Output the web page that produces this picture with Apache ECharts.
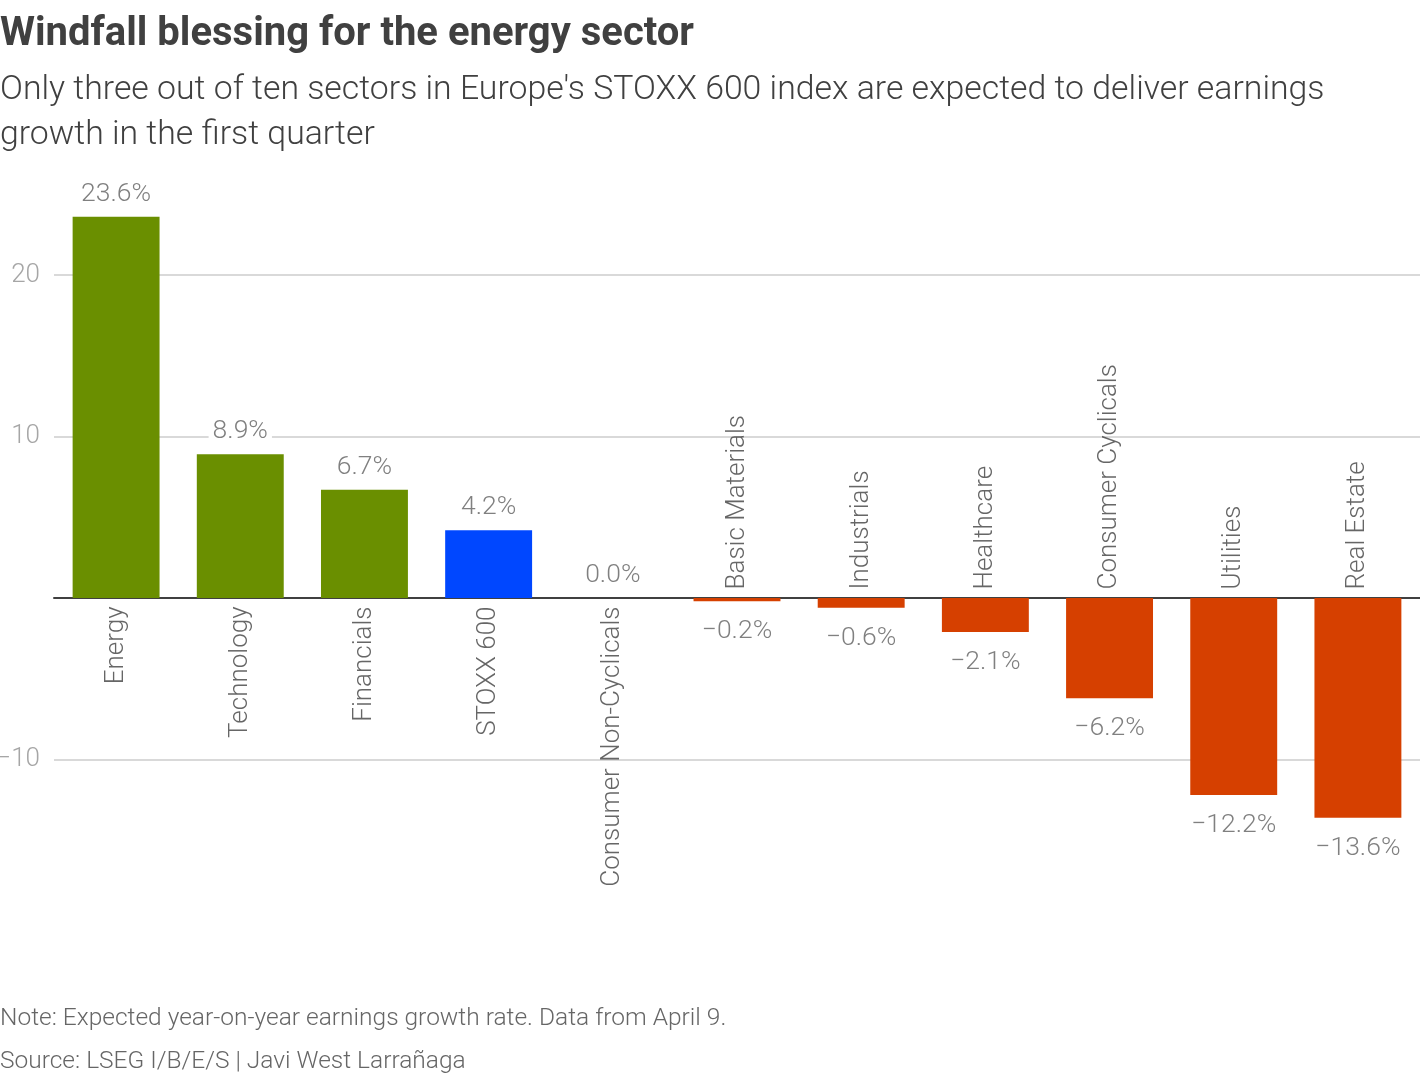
<!DOCTYPE html>
<html>
<head>
<meta charset="utf-8">
<script src="https://cdn.jsdelivr.net/npm/echarts@6/dist/echarts.min.js"></script>
<style>
  html, body { margin: 0; padding: 0; background: #fff; }
  #chart { width: 1420px; height: 1074px; }
</style>
</head>
<body>
<div id="chart"></div>
<script>
const sectors = [
  'Energy', 'Technology', 'Financials', 'STOXX 600', 'Consumer Non-Cyclicals',
  'Basic Materials', 'Industrials', 'Healthcare', 'Consumer Cyclicals', 'Utilities', 'Real Estate'
];
const growth = [23.6, 8.9, 6.7, 4.2, 0.0, -0.2, -0.6, -2.1, -6.2, -12.2, -13.6];
const yTicks = [-10, 10, 20];
const indexName = 'STOXX 600';

const FONT = 'Roboto';
const COLORS = {
  up: '#6a8f00',
  index: '#0047ff',
  down: '#d64000'
};

function fmtPct(v) {
  const s = Math.abs(v).toFixed(1) + '%';
  return v < 0 ? '\u2212' + s : s;
}

const chart = echarts.init(document.getElementById('chart'), null, { renderer: 'canvas' });

// value labels sit above bars >= 0 and below negative bars
const barData = growth.map((v, i) => ({
  value: v,
  itemStyle: {
    color: sectors[i] === indexName ? COLORS.index : (v < 0 ? COLORS.down : COLORS.up)
  },
  label: {
    position: v < 0 ? 'outside' : 'top',
    distance: v < 0 ? 17 : 9
  }
}));

// sector names flip to the opposite side of the zero line
const nameData = sectors.map((name, i) => {
  const below = growth[i] >= 0;
  return {
    value: [i, 0],
    name,
    label: {
      position: below ? 'bottom' : 'top',
      distance: 8,
      align: below ? 'right' : 'left',
      verticalAlign: 'middle'
    }
  };
});

const option = {
  animation: false,
  backgroundColor: '#fff',
  title: [
    {
      text: 'Windfall blessing for the energy sector',
      left: 0, top: 15, padding: 0,
      textStyle: { fontFamily: FONT, fontWeight: 'bold', fontSize: 40, color: '#404040' }
    },
    {
      text: "Only three out of ten sectors in Europe's STOXX 600 index are expected to deliver earnings\ngrowth in the first quarter",
      left: 0, top: 68, padding: 0,
      textStyle: { fontFamily: FONT, fontWeight: 300, fontSize: 33.8, lineHeight: 45, color: '#404040' }
    },
    {
      text: 'Note: Expected year-on-year earnings growth rate. Data from April 9.',
      left: 0, top: 1006, padding: 0,
      textStyle: { fontFamily: FONT, fontWeight: 300, fontSize: 24.5, color: '#666' }
    },
    {
      text: 'Source: LSEG I/B/E/S | Javi West Larra\u00f1aga',
      left: 0, top: 1049, padding: 0,
      textStyle: { fontFamily: FONT, fontWeight: 300, fontSize: 24.5, color: '#666' }
    }
  ],
  grid: { left: 54, right: 0, top: 113.5, height: 807.5, outerBoundsMode: 'none' },
  xAxis: {
    type: 'category',
    data: sectors,
    axisLine: { onZero: true, lineStyle: { color: '#404040', width: 2 } },
    axisTick: { show: false },
    axisLabel: { show: false },
    splitLine: { show: false }
  },
  yAxis: {
    type: 'value',
    min: -20,
    max: 30,
    interval: 10,
    axisLine: { show: false },
    axisTick: { show: false },
    axisLabel: {
      margin: 14,
      fontFamily: FONT,
      fontWeight: 300,
      fontSize: 26,
      color: '#a6a6a6',
      showMinLabel: false,
      showMaxLabel: false,
      formatter: (v) => (yTicks.includes(v) ? (v < 0 ? '\u2212' + Math.abs(v) : String(v)) : '')
    },
    splitLine: {
      show: true,
      showMinLine: false,
      showMaxLine: false,
      lineStyle: { color: '#cccccc', width: 1.5 }
    }
  },
  series: [
    {
      type: 'bar',
      data: barData,
      barWidth: '70%',
      silent: true,
      label: {
        show: true,
        fontFamily: FONT,
        fontWeight: 300,
        fontSize: 26.5,
        color: '#808080',
        backgroundColor: '#fff',
        padding: [0, 4],
        formatter: (p) => fmtPct(p.value)
      }
    },
    {
      type: 'scatter',
      data: nameData,
      symbol: 'circle',
      symbolSize: 1,
      silent: true,
      itemStyle: { color: 'transparent' },
      label: {
        show: true,
        rotate: 90,
        fontFamily: FONT,
        fontWeight: 300,
        fontSize: 26,
        color: '#404040',
        formatter: (p) => p.name
      },
      z: 5
    }
  ]
};

chart.setOption(option);
</script>
</body>
</html>
